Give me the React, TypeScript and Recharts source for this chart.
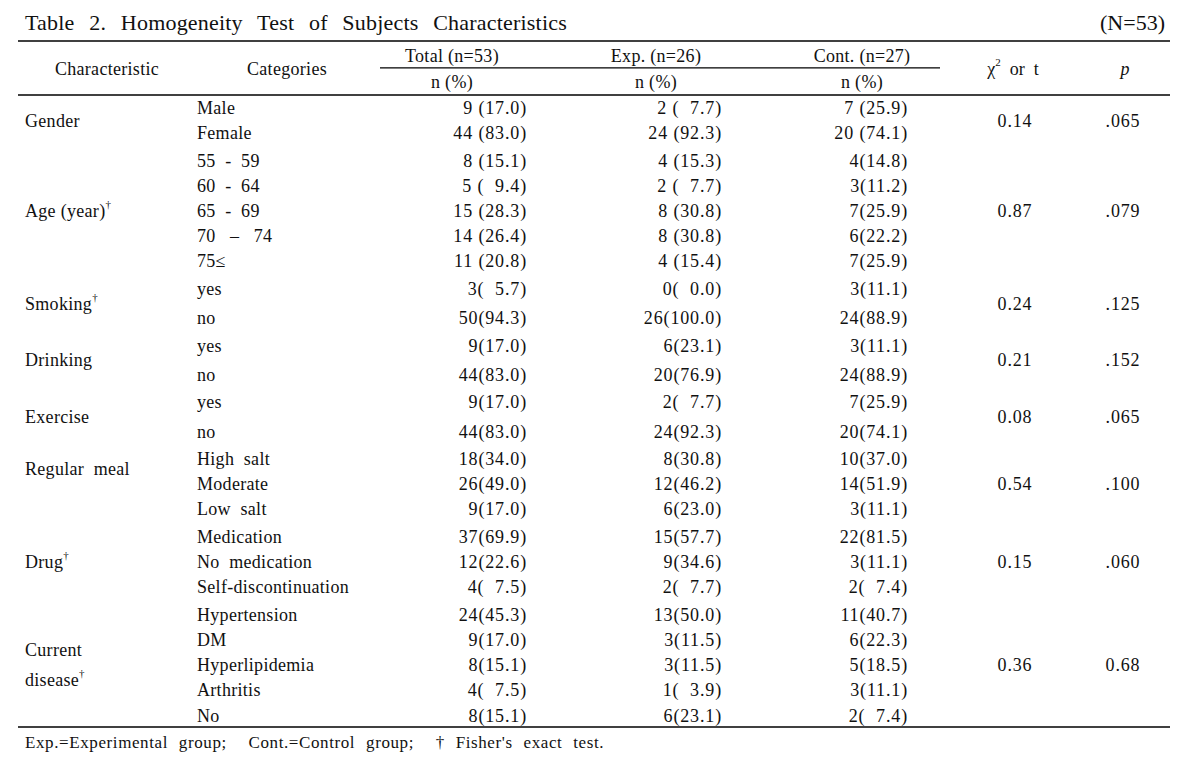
import React from 'react';
import { ScatterChart, Scatter, XAxis, YAxis, ReferenceLine } from 'recharts';

const FONT = '"Liberation Serif", "Times New Roman", serif';
const W = 1188;
const H = 763;

// table contents
const characteristics = ['Gender', 'Age (year)', 'Smoking', 'Drinking', 'Exercise', 'Regular  meal', 'Drug', 'Current disease'];
const fisherTest = [false, true, true, false, false, false, true, true];
const categories = [
  ['Male', 'Female'],
  ['55  -  59', '60  -  64', '65  -  69', '70   \u2013   74', '75\u2264'],
  ['yes', 'no'],
  ['yes', 'no'],
  ['yes', 'no'],
  ['High  salt', 'Moderate', 'Low  salt'],
  ['Medication', 'No  medication', 'Self-discontinuation'],
  ['Hypertension', 'DM', 'Hyperlipidemia', 'Arthritis', 'No'],
];
const totalCol = ['9 (17.0)', '44 (83.0)', '8 (15.1)', '5 (  9.4)', '15 (28.3)', '14 (26.4)', '11 (20.8)', '3(  5.7)', '50(94.3)', '9(17.0)', '44(83.0)', '9(17.0)', '44(83.0)', '18(34.0)', '26(49.0)', '9(17.0)', '37(69.9)', '12(22.6)', '4(  7.5)', '24(45.3)', '9(17.0)', '8(15.1)', '4(  7.5)', '8(15.1)'];
const expCol = ['2 (  7.7)', '24 (92.3)', '4 (15.3)', '2 (  7.7)', '8 (30.8)', '8 (30.8)', '4 (15.4)', '0(  0.0)', '26(100.0)', '6(23.1)', '20(76.9)', '2(  7.7)', '24(92.3)', '8(30.8)', '12(46.2)', '6(23.0)', '15(57.7)', '9(34.6)', '2(  7.7)', '13(50.0)', '3(11.5)', '3(11.5)', '1(  3.9)', '6(23.1)'];
const contCol = ['7 (25.9)', '20 (74.1)', '4(14.8)', '3(11.2)', '7(25.9)', '6(22.2)', '7(25.9)', '3(11.1)', '24(88.9)', '3(11.1)', '24(88.9)', '7(25.9)', '20(74.1)', '10(37.0)', '14(51.9)', '3(11.1)', '22(81.5)', '3(11.1)', '2(  7.4)', '11(40.7)', '6(22.3)', '5(18.5)', '3(11.1)', '2(  7.4)'];
const chiValues = ['0.14', '0.87', '0.24', '0.21', '0.08', '0.54', '0.15', '0.36'];
const pValues = ['.065', '.079', '.125', '.152', '.065', '.100', '.060', '0.68'];

// layout (x in px of the plot, y in row units)
const ROW = 25.2;
const FIRST_ROW_PX = 108;
const Y_MIN = -FIRST_ROW_PX / ROW;
const Y_MAX = (H - FIRST_ROW_PX) / ROW;
const COL = { char: 25, cat: 197, total: 527, exp: 722, cont: 908, chi: 1015, p: 1123 };
const HEAD = { total: 452, exp: 656, cont: 862 };

type Cell = { x: number; y: number; text: string; anchor?: string; size?: number; italic?: boolean; sup?: string; after?: string; ws?: number; ls?: number };

const NUM_LS = 0.85;
const TXT_LS = 0.3;

const cells: Cell[] = [];
let rowIdx = 0;
let pos = 0;
categories.forEach((cats, g) => {
  if (g > 0) pos += 0.09;
  const loose = cats[0] === 'yes'; // yes/no groups are set a bit wider
  const rowPositions: number[] = [];
  cats.forEach((c, k) => {
    if (k > 0) pos += loose ? 1.16 : 1;
    rowPositions.push(pos);
    cells.push({ x: COL.cat, y: pos, text: c, anchor: 'start', ls: TXT_LS });
    cells.push({ x: COL.total, y: pos, text: totalCol[rowIdx], anchor: 'end', ls: NUM_LS });
    cells.push({ x: COL.exp, y: pos, text: expCol[rowIdx], anchor: 'end', ls: NUM_LS });
    cells.push({ x: COL.cont, y: pos, text: contCol[rowIdx], anchor: 'end', ls: NUM_LS });
    rowIdx++;
  });
  pos += 1;
  const first = rowPositions[0];
  const last = rowPositions[rowPositions.length - 1];
  const mid = cats.length % 2 === 1 ? rowPositions[(cats.length - 1) / 2] : (first + last) / 2;
  const sup = fisherTest[g] ? '\u2020' : undefined;
  const name = characteristics[g];
  if (name === 'Current disease') {
    cells.push({ x: COL.char, y: mid - 0.6, text: 'Current', anchor: 'start', ls: TXT_LS });
    cells.push({ x: COL.char, y: mid + 0.6, text: 'disease', anchor: 'start', sup, ls: TXT_LS });
  } else if (cats.length === 3 && !sup) {
    cells.push({ x: COL.char, y: first + 0.4, text: name, anchor: 'start', ls: TXT_LS });
  } else {
    cells.push({ x: COL.char, y: mid, text: name, anchor: 'start', sup, ls: TXT_LS });
  }
  cells.push({ x: COL.chi, y: mid, text: chiValues[g], anchor: 'middle', ls: NUM_LS });
  cells.push({ x: COL.p, y: mid, text: pValues[g], anchor: 'middle', ls: NUM_LS });
});

const titleY = -3.41;
const topLineY = -2.66;
const groupHeadY = -2.06;
const subLineY = -1.59;
const headMidY = -1.55;
const nPctY = -1.03;
const headLineY = -0.52;
const bottomLineY = 24.56;
const footY = 25.16;

cells.push(
  { x: COL.char, y: titleY, text: 'Table 2. Homogeneity Test of Subjects Characteristics', anchor: 'start', size: 22, ws: 9, ls: 0.2 },
  { x: 1165, y: titleY, text: '(N=53)', anchor: 'end', size: 22 },
  { x: 107, y: headMidY, text: 'Characteristic', anchor: 'middle', ls: TXT_LS },
  { x: 287, y: headMidY, text: 'Categories', anchor: 'middle', ls: TXT_LS },
  { x: HEAD.total, y: groupHeadY, text: 'Total (n=53)', anchor: 'middle', ls: TXT_LS },
  { x: HEAD.exp, y: groupHeadY, text: 'Exp. (n=26)', anchor: 'middle', ls: TXT_LS },
  { x: HEAD.cont, y: groupHeadY, text: 'Cont. (n=27)', anchor: 'middle', ls: TXT_LS },
  { x: HEAD.total, y: nPctY, text: 'n (%)', anchor: 'middle', ls: TXT_LS },
  { x: HEAD.exp, y: nPctY, text: 'n (%)', anchor: 'middle', ls: TXT_LS },
  { x: HEAD.cont, y: nPctY, text: 'n (%)', anchor: 'middle', ls: TXT_LS },
  { x: 1013, y: headMidY, text: '\u03c7', anchor: 'middle', sup: '2', after: '  or  t' },
  { x: 1125, y: headMidY, text: 'p', anchor: 'middle', italic: true },
  { x: COL.char, y: footY, text: 'Exp.=Experimental group;  Cont.=Control group;  \u2020 Fisher\'s exact test.', anchor: 'start', size: 17, ws: 6, ls: 0.6 },
);

function TextCell(props: any) {
  const { cx, cy, payload } = props;
  if (cx == null || cy == null) return null;
  const c: Cell = payload;
  const size = c.size || 18;
  return (
    <text
      x={cx}
      y={cy}
      textAnchor={c.anchor as any}
      dominantBaseline="central"
      fontFamily={FONT}
      fontSize={size}
      fontStyle={c.italic ? 'italic' : 'normal'}
      fill="#111"
      style={{ whiteSpace: 'pre', wordSpacing: c.ws || 0, letterSpacing: c.ls || 0 }}
    >
      {c.text}
      {c.sup && (
        <tspan dy={-7} fontSize={11}>
          {c.sup}
        </tspan>
      )}
      {c.after && <tspan dy={7}>{c.after}</tspan>}
    </text>
  );
}

export default function App() {
  return (
    <div style={{ position: 'absolute', left: 0, top: 0, background: '#fff' }}>
      <ScatterChart width={W} height={H} margin={{ top: 0, right: 18, bottom: 0, left: 18 }}>
        <XAxis type="number" dataKey="x" domain={[18, 1170]} allowDataOverflow hide />
        <YAxis type="number" dataKey="y" domain={[Y_MIN, Y_MAX]} allowDataOverflow reversed hide />
        <ReferenceLine y={topLineY} stroke="#000" strokeWidth={1.5} />
        <ReferenceLine segment={[{ x: 380, y: subLineY }, { x: 940, y: subLineY }]} stroke="#000" strokeWidth={1.2} />
        <ReferenceLine y={headLineY} stroke="#000" strokeWidth={1.5} />
        <ReferenceLine y={bottomLineY} stroke="#000" strokeWidth={1.5} />
        <Scatter data={cells} shape={TextCell} isAnimationActive={false} />
      </ScatterChart>
    </div>
  );
}
